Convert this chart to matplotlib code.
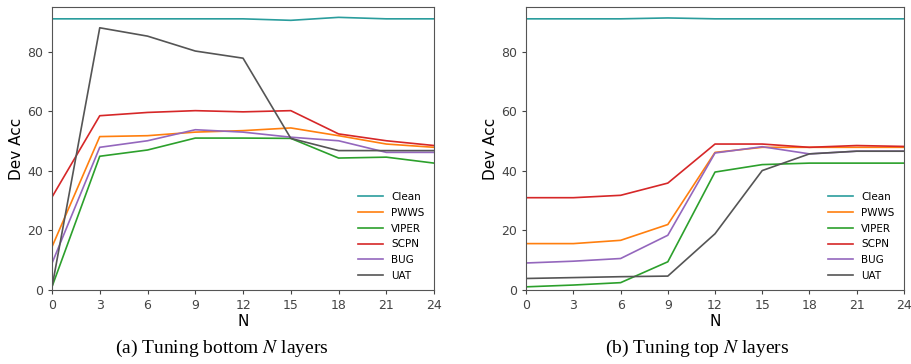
import matplotlib
matplotlib.use("Agg")
import matplotlib.pyplot as plt

plt.rcParams["mathtext.fontset"] = "stix"

layers = [0, 3, 6, 9, 12, 15, 18, 21, 24]
series_names = ["Clean", "PWWS", "VIPER", "SCPN", "BUG", "UAT"]
colors = ["#2a9d9d", "#ff7f0e", "#2ca02c", "#d62728", "#9467bd", "#555555"]

# (a) tuning bottom N layers
bottom_clean = [91.0, 91.0, 91.0, 91.0, 91.0, 90.5, 91.5, 91.0, 91.0]
bottom_pwws = [14.5, 51.5, 51.8, 53.0, 53.5, 54.4, 51.8, 49.0, 47.9]
bottom_viper = [1.1, 44.9, 47.0, 51.0, 51.0, 50.9, 44.3, 44.6, 42.6]
bottom_scpn = [31.2, 58.5, 59.6, 60.2, 59.8, 60.2, 52.4, 50.1, 48.5]
bottom_bug = [9.0, 47.9, 50.1, 53.8, 53.0, 51.3, 50.1, 46.2, 46.2]
bottom_uat = [1.0, 88.0, 85.2, 80.2, 77.8, 50.9, 46.8, 46.8, 46.8]

# (b) tuning top N layers
top_clean = [91.0, 91.0, 91.0, 91.3, 91.0, 91.0, 91.0, 91.0, 91.0]
top_pwws = [15.6, 15.6, 16.7, 22.0, 46.2, 47.9, 47.9, 47.9, 47.9]
top_viper = [1.1, 1.7, 2.5, 9.5, 39.6, 42.1, 42.6, 42.6, 42.6]
top_scpn = [31.0, 31.0, 31.8, 35.9, 49.0, 49.0, 47.9, 48.5, 48.2]
top_bug = [9.1, 9.7, 10.6, 18.4, 46.0, 48.1, 45.7, 46.6, 46.6]
top_uat = [3.9, 4.2, 4.5, 4.7, 18.9, 40.1, 45.7, 46.6, 46.6]

bottom_data = [bottom_clean, bottom_pwws, bottom_viper, bottom_scpn, bottom_bug, bottom_uat]
top_data = [top_clean, top_pwws, top_viper, top_scpn, top_bug, top_uat]

fig = plt.figure(figsize=(9.12, 3.64), dpi=100)
ax_a = fig.add_axes([0.057, 0.203, 0.419, 0.778])
ax_b = fig.add_axes([0.577, 0.203, 0.414, 0.778])

for ax, data, caption, cx in [
    (ax_a, bottom_data, r"(a) Tuning bottom $N$ layers", 0.243),
    (ax_b, top_data, r"(b) Tuning top $N$ layers", 0.765),
]:
    for name, vals, color in zip(series_names, data, colors):
        ax.plot(layers, vals, color=color, linewidth=1.2, label=name)
    ax.set_xlim(0, 24)
    ax.set_ylim(0, 95)
    ax.set_xticks(layers)
    ax.set_yticks([0, 20, 40, 60, 80])
    ax.tick_params(labelsize=9, colors="#444444", length=3)
    ax.set_xlabel("N", fontsize=11, labelpad=1)
    ax.set_ylabel("Dev Acc", fontsize=11, labelpad=2)
    for spine in ax.spines.values():
        spine.set_color("#555555")
    ax.legend(loc="lower right", frameon=False, fontsize=7.5, labelspacing=0.55,
              handlelength=2.4, borderaxespad=0.5)
    fig.text(cx, 0.042, caption, ha="center", va="center", fontsize=14,
             family="Liberation Serif")

fig.savefig("out.png", dpi=100)
